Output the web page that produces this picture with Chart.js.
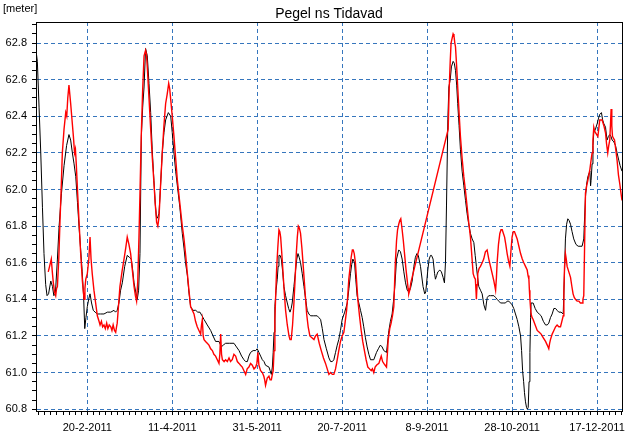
<!DOCTYPE html>
<html>
<head>
<meta charset="utf-8">
<script src="https://cdn.jsdelivr.net/npm/chart.js@4.4.1/dist/chart.umd.min.js"></script>
<style>
  html, body { margin: 0; padding: 0; background: #fff; }
</style>
</head>
<body>
<canvas id="chart" width="634" height="436"></canvas>
<script>
const chartTitle = 'Pegel ns Tidavad'
const unitLabel = '[meter]'

// x values are days counted from 1-1-2011
const xTickDays = [50, 100, 150, 200, 250, 300, 350]
const xTickLabels = ['20-2-2011', '11-4-2011', '31-5-2011', '20-7-2011', '8-9-2011', '28-10-2011', '17-12-2011']
const yTickLabels = ['60.8', '61.0', '61.2', '61.4', '61.6', '61.8', '62.0', '62.2', '62.4', '62.6', '62.8']

const blackDays = [
  19.8, 20.6, 21.6, 22.6, 23.6, 24.5, 25.5, 26.3, 27.2, 28.5,
  29.5, 30.3, 31.2, 32.4, 33.4, 34.8, 36.3, 37.8, 39.2, 40.2,
  41.2, 42.2, 43.2, 44.2, 45.1, 46.1, 47.0, 47.8, 48.5, 49.2,
  50.0, 50.8, 51.6, 52.5, 53.5, 54.6, 55.9, 57.8, 59.8, 61.8,
  63.8, 65.7, 66.6, 67.6, 68.6, 69.6, 70.6, 72.0, 73.5, 74.7,
  75.9, 76.7, 77.5, 78.5, 79.4, 80.2, 81.0, 81.8, 82.6, 83.4,
  84.3, 85.3, 86.3, 87.3, 88.2, 89.2, 90.0, 90.8, 91.5, 92.2,
  93.1, 94.1, 95.1, 96.1, 97.7, 99.1, 100.0, 101.0, 102.0, 103.0,
  104.5, 105.9, 106.9, 107.8, 108.9, 109.8, 110.8, 112.2, 113.8, 115.0,
  116.3, 117.5, 118.7, 120.6, 122.6, 124.0, 125.5, 127.5, 128.9, 130.0,
  131.4, 133.8, 136.3, 137.8, 139.3, 140.8, 142.2, 143.2, 144.2, 145.1,
  146.1, 147.6, 149.1, 150.0, 151.0, 152.0, 153.0, 154.0, 154.9, 156.9,
  157.6, 158.3, 158.9, 159.4, 159.9, 160.4, 161.1, 161.8, 162.3, 162.8,
  163.5, 164.2, 165.0, 165.7, 166.7, 167.7, 168.5, 169.3, 170.0, 170.6,
  171.6, 172.6, 173.3, 174.0, 174.7, 175.5, 176.5, 177.5, 178.5, 179.4,
  180.4, 181.4, 183.3, 185.3, 186.3, 187.3, 188.3, 189.3, 190.7, 192.2,
  193.2, 194.2, 195.1, 196.1, 197.1, 198.0, 199.0, 200.0, 201.5, 203.0,
  204.0, 204.9, 205.6, 206.3, 207.3, 208.0, 208.8, 209.8, 210.8, 211.8,
  212.7, 213.7, 214.7, 215.7, 216.7, 218.6, 220.2, 221.3, 222.5, 223.5,
  224.5, 226.1, 227.5, 228.4, 229.4, 230.2, 231.0, 232.0, 233.3, 234.3,
  235.3, 236.3, 237.3, 238.3, 239.2, 240.2, 241.2, 242.2, 243.1, 244.0,
  244.8, 246.1, 247.6, 248.6, 249.2, 250.4, 251.2, 252.0, 252.6, 253.5,
  254.4, 254.9, 255.6, 256.3, 257.5, 258.4, 259.4, 260.2, 260.8, 261.4,
  262.2, 262.8, 263.6, 264.3, 265.3, 266.0, 266.7, 267.4, 268.0, 268.8,
  269.6, 270.6, 271.6, 272.6, 273.5, 274.5, 275.5, 276.5, 277.5, 278.3,
  279.0, 279.7, 280.4, 281.4, 282.4, 283.4, 284.4, 284.9, 285.4, 286.3,
  287.3, 289.3, 290.3, 291.2, 292.2, 293.2, 295.2, 296.1, 297.1, 298.1,
  299.1, 300.0, 301.0, 302.0, 303.0, 304.0, 305.0, 305.6, 306.2, 306.8,
  307.3, 307.9, 308.5, 309.0, 309.5, 310.0, 310.5, 310.9, 311.2, 311.8,
  312.4, 313.6, 314.8, 316.0, 317.1, 318.4, 319.7, 320.7, 321.6, 322.6,
  323.6, 324.6, 325.6, 326.5, 327.5, 328.8, 330.1, 330.7, 331.4, 332.1,
  332.8, 333.6, 334.4, 335.3, 336.3, 337.6, 338.9, 340.0, 341.2, 342.2,
  342.7, 343.2, 343.9, 344.6, 345.8, 346.2, 346.5, 347.1, 347.6, 348.1,
  349.1, 350.1, 350.9, 351.6, 352.6, 353.3, 354.0, 355.0, 355.9, 356.7,
  357.5, 358.2, 358.9, 359.9, 360.9, 361.8, 362.8, 363.6, 364.7
]
const blackLevels = [
  62.76, 62.70, 62.45, 62.20, 61.90, 61.65, 61.48, 61.42, 61.43, 61.50,
  61.47, 61.42, 61.43, 61.62, 61.80, 61.98, 62.13, 62.24, 62.30, 62.27,
  62.20, 62.14, 62.07, 61.93, 61.80, 61.67, 61.55, 61.42, 61.24, 61.30,
  61.36, 61.40, 61.43, 61.38, 61.34, 61.33, 61.32, 61.32, 61.32, 61.33,
  61.33, 61.34, 61.33, 61.34, 61.38, 61.45, 61.49, 61.58, 61.64, 61.63,
  61.62, 61.56, 61.49, 61.44, 61.40, 61.45, 61.65, 62.29, 62.45, 62.56,
  62.77, 62.73, 62.58, 62.42, 62.22, 62.05, 61.92, 61.84, 61.85, 61.87,
  62.02, 62.20, 62.31, 62.38, 62.42, 62.40, 62.31, 62.20, 62.10, 62.02,
  61.90, 61.76, 61.68, 61.60, 61.53, 61.44, 61.36, 61.34, 61.34, 61.33,
  61.33, 61.31, 61.29, 61.26, 61.23, 61.20, 61.17, 61.17, 61.14, 61.15,
  61.16, 61.16, 61.16, 61.14, 61.12, 61.09, 61.07, 61.06, 61.06, 61.09,
  61.11, 61.12, 61.12, 61.13, 61.11, 61.09, 61.07, 61.06, 61.04, 61.03,
  61.01, 60.99, 61.03, 61.11, 61.22, 61.36, 61.45, 61.51, 61.58, 61.64,
  61.64, 61.62, 61.55, 61.47, 61.42, 61.38, 61.35, 61.33, 61.35, 61.38,
  61.47, 61.56, 61.62, 61.65, 61.63, 61.60, 61.54, 61.47, 61.40, 61.34,
  61.32, 61.31, 61.31, 61.31, 61.30, 61.29, 61.24, 61.18, 61.13, 61.08,
  61.06, 61.06, 61.07, 61.11, 61.15, 61.18, 61.23, 61.29, 61.33, 61.38,
  61.46, 61.54, 61.59, 61.62, 61.60, 61.51, 61.42, 61.38, 61.34, 61.30,
  61.25, 61.19, 61.14, 61.10, 61.07, 61.07, 61.11, 61.13, 61.15, 61.14,
  61.12, 61.11, 61.23, 61.28, 61.32, 61.39, 61.47, 61.62, 61.67, 61.66,
  61.62, 61.55, 61.49, 61.45, 61.44, 61.46, 61.50, 61.58, 61.63, 61.65,
  61.64, 61.58, 61.47, 61.43, 61.44, 61.56, 61.62, 61.64, 61.64, 61.62,
  61.54, 61.51, 61.53, 61.55, 61.56, 61.55, 61.52, 61.49, 61.60, 61.91,
  62.38, 62.56, 62.60, 62.67, 62.70, 62.69, 62.65, 62.57, 62.47, 62.35,
  62.22, 62.10, 62.02, 61.94, 61.87, 61.81, 61.76, 61.73, 61.71, 61.64,
  61.58, 61.52, 61.47, 61.45, 61.43, 61.37, 61.34, 61.38, 61.41, 61.42,
  61.42, 61.42, 61.41, 61.40, 61.39, 61.38, 61.38, 61.38, 61.39, 61.39,
  61.38, 61.37, 61.35, 61.32, 61.29, 61.25, 61.20, 61.12, 61.01, 60.95,
  60.89, 60.84, 60.81, 60.80, 60.81, 60.95, 61.11, 61.30, 61.38, 61.38,
  61.38, 61.35, 61.33, 61.32, 61.31, 61.28, 61.26, 61.26, 61.27, 61.30,
  61.32, 61.35, 61.35, 61.34, 61.33, 61.33, 61.32, 61.50, 61.73, 61.81,
  61.84, 61.83, 61.81, 61.77, 61.73, 61.70, 61.69, 61.69, 61.69, 61.73,
  61.85, 61.96, 62.03, 62.07, 62.10, 62.02, 62.05, 62.14, 62.24, 62.31,
  62.33, 62.36, 62.39, 62.41, 62.42, 62.38, 62.36, 62.34, 62.27, 62.29,
  62.30, 62.29, 62.27, 62.26, 62.24, 62.20, 62.16, 62.13, 62.10
]

const redDays = [
  27.0, 27.8, 28.8, 29.4, 30.0, 30.7, 31.4, 31.9, 32.4, 33.2,
  33.9, 34.6, 35.3, 36.3, 37.3, 37.9, 38.5, 39.2, 39.7, 40.2,
  41.0, 41.8, 42.5, 43.0, 43.5, 44.2, 45.1, 46.1, 47.1, 48.1,
  48.6, 49.1, 50.0, 50.9, 51.6, 52.2, 52.9, 53.9, 54.9, 55.9,
  56.9, 57.5, 58.3, 59.0, 59.8, 60.6, 61.4, 62.1, 62.9, 63.8,
  64.5, 65.2, 66.0, 66.7, 67.2, 67.6, 68.4, 69.2, 70.4, 71.6,
  72.6, 73.5, 74.5, 75.5, 76.5, 77.5, 78.3, 79.0, 79.7, 80.4,
  81.1, 81.8, 82.6, 83.4, 84.3, 84.8, 85.3, 86.3, 87.3, 88.2,
  89.2, 90.0, 90.8, 91.5, 92.2, 93.1, 94.1, 95.1, 96.1, 97.0,
  97.9, 98.5, 99.1, 100.0, 101.0, 102.0, 103.0, 104.5, 105.9, 106.9,
  107.9, 108.9, 109.8, 110.8, 111.8, 112.8, 113.7, 114.7, 115.7, 116.7,
  117.2, 117.7, 118.2, 118.7, 119.6, 120.6, 121.6, 122.6, 123.6, 124.5,
  125.5, 126.5, 127.5, 128.0, 128.5, 129.0, 129.5, 130.5, 131.4, 132.4,
  133.4, 134.3, 135.3, 136.3, 137.3, 138.3, 139.3, 140.2, 141.2, 142.2,
  143.2, 144.1, 145.1, 146.1, 147.1, 148.1, 149.1, 149.8, 150.4, 151.0,
  152.0, 153.0, 153.9, 154.4, 154.9, 155.9, 156.9, 157.6, 158.3, 158.9,
  159.4, 159.9, 160.4, 160.9, 161.4, 162.1, 162.8, 163.3, 163.8, 164.4,
  165.1, 165.9, 166.7, 167.7, 168.7, 169.3, 170.0, 170.8, 171.6, 172.3,
  173.0, 173.6, 174.2, 174.8, 175.5, 176.3, 177.1, 178.1, 179.1, 180.0,
  181.0, 182.2, 183.4, 184.3, 185.3, 186.5, 187.7, 189.0, 190.2, 191.2,
  192.2, 193.2, 194.2, 195.1, 196.1, 197.1, 198.0, 199.0, 200.0, 201.0,
  201.8, 202.6, 203.3, 203.9, 204.6, 205.3, 206.0, 206.5, 207.1, 207.8,
  208.5, 209.2, 210.2, 211.2, 212.1, 213.1, 214.1, 215.1, 216.1, 217.1,
  217.8, 218.6, 219.4, 220.2, 221.6, 222.3, 223.0, 223.8, 224.5, 225.3,
  226.1, 226.6, 227.1, 228.0, 228.8, 229.6, 230.4, 230.9, 231.4, 232.0,
  232.6, 233.3, 233.9, 234.5, 235.3, 236.0, 236.7, 237.5, 238.2, 238.8,
  239.2, 239.8, 240.4, 262.4, 263.0, 263.6, 264.1, 264.8, 265.3, 265.8,
  266.3, 266.7, 267.4, 268.0, 268.8, 269.6, 270.6, 271.6, 272.6, 273.5,
  274.5, 275.5, 276.3, 277.1, 277.8, 278.4, 278.8, 279.0, 279.4, 279.8,
  280.6, 281.4, 282.4, 283.3, 284.3, 285.3, 286.3, 287.3, 288.3, 289.3,
  290.3, 290.8, 291.2, 292.0, 292.8, 293.5, 294.2, 294.9, 295.6, 296.3,
  297.1, 297.9, 298.7, 299.3, 300.0, 300.7, 301.4, 302.2, 303.0, 304.0,
  305.0, 306.0, 306.9, 307.9, 308.9, 309.4, 309.9, 310.2, 310.5, 310.9,
  311.2, 311.8, 312.4, 313.6, 314.8, 316.0, 317.1, 318.4, 319.7, 320.7,
  321.6, 322.1, 322.6, 323.6, 324.6, 325.6, 326.5, 327.5, 328.5, 329.3,
  330.1, 330.5, 330.9, 331.4, 331.9, 332.4, 333.4, 334.4, 335.2, 335.9,
  336.6, 337.3, 338.3, 339.3, 340.2, 341.2, 341.7, 342.2, 342.7, 343.2,
  343.9, 344.6, 345.2, 345.8, 346.5, 347.1, 347.6, 348.1, 348.6, 349.1,
  349.8, 350.5, 351.0, 351.6, 352.3, 353.0, 354.0, 355.0, 355.6, 356.3,
  356.9, 357.5, 357.9, 358.3, 358.7, 359.1, 359.7, 360.3, 361.0, 361.8,
  362.6, 363.4, 364.1, 364.7
]
const redLevels = [
  61.55, 61.58, 61.62, 61.55, 61.49, 61.44, 61.42, 61.46, 61.47, 61.62,
  61.82, 62.00, 62.20, 62.33, 62.42, 62.40, 62.50, 62.57, 62.52, 62.47,
  62.38, 62.29, 62.20, 62.22, 62.14, 62.00, 61.83, 61.65, 61.50, 61.40,
  61.46, 61.51, 61.54, 61.62, 61.74, 61.62, 61.54, 61.45, 61.38, 61.31,
  61.28, 61.26, 61.28, 61.25, 61.26, 61.24, 61.27, 61.24, 61.26, 61.25,
  61.23, 61.26, 61.23, 61.22, 61.25, 61.27, 61.37, 61.47, 61.55, 61.62,
  61.68, 61.74, 61.70, 61.65, 61.56, 61.47, 61.42, 61.39, 61.50, 61.74,
  62.02, 62.31, 62.55, 62.73, 62.76, 62.74, 62.67, 62.50, 62.33, 62.18,
  62.04, 61.92, 61.82, 61.80, 61.85, 62.02, 62.20, 62.35, 62.47, 62.52,
  62.58, 62.55, 62.49, 62.40, 62.29, 62.17, 62.05, 61.92, 61.80, 61.73,
  61.64, 61.54, 61.45, 61.36, 61.34, 61.32, 61.28, 61.25, 61.23, 61.21,
  61.26, 61.29, 61.20, 61.18, 61.17, 61.16, 61.15, 61.13, 61.12, 61.10,
  61.09, 61.07, 61.05, 61.10, 61.21, 61.10, 61.07, 61.06, 61.07, 61.06,
  61.08, 61.06, 61.07, 61.10, 61.09, 61.06, 61.05, 61.04, 61.03, 61.01,
  60.99, 61.02, 61.03, 61.05, 61.04, 61.02, 61.03, 61.05, 61.11, 61.04,
  61.01, 61.00, 60.98, 60.96, 60.93, 60.97, 60.98, 60.96, 60.96, 60.99,
  61.01, 61.12, 61.29, 61.43, 61.56, 61.68, 61.78, 61.77, 61.74, 61.66,
  61.56, 61.44, 61.34, 61.26, 61.20, 61.18, 61.18, 61.26, 61.38, 61.51,
  61.65, 61.74, 61.80, 61.79, 61.76, 61.68, 61.58, 61.45, 61.32, 61.25,
  61.20, 61.19, 61.18, 61.20, 61.21, 61.16, 61.12, 61.08, 61.05, 61.02,
  60.99, 61.00, 60.99, 60.99, 61.02, 61.07, 61.12, 61.17, 61.20, 61.22,
  61.28, 61.34, 61.42, 61.51, 61.57, 61.63, 61.67, 61.67, 61.65, 61.60,
  61.50, 61.40, 61.31, 61.23, 61.17, 61.12, 61.07, 61.03, 61.02, 61.01,
  61.02, 61.00, 61.03, 61.04, 61.05, 61.07, 61.09, 61.06, 61.05, 61.04,
  61.03, 61.10, 61.18, 61.24, 61.27, 61.31, 61.36, 61.50, 61.62, 61.72,
  61.78, 61.81, 61.83, 61.84, 61.78, 61.72, 61.65, 61.57, 61.51, 61.46,
  61.43, 61.45, 61.49, 62.33, 62.55, 62.70, 62.80, 62.83, 62.85, 62.84,
  62.80, 62.78, 62.67, 62.56, 62.42, 62.29, 62.17, 62.07, 61.99, 61.91,
  61.82, 61.74, 61.64, 61.54, 61.52, 61.51, 61.44, 61.40, 61.48, 61.54,
  61.57, 61.58, 61.60, 61.62, 61.66, 61.67, 61.62, 61.58, 61.54, 61.50,
  61.45, 61.52, 61.60, 61.70, 61.76, 61.78, 61.78, 61.76, 61.74, 61.70,
  61.65, 61.61, 61.58, 61.66, 61.74, 61.77, 61.77, 61.75, 61.73, 61.69,
  61.65, 61.62, 61.60, 61.58, 61.56, 61.53, 61.51, 61.45, 61.40, 61.35,
  61.32, 61.30, 61.29, 61.26, 61.23, 61.22, 61.21, 61.19, 61.17, 61.15,
  61.13, 61.16, 61.18, 61.21, 61.23, 61.25, 61.26, 61.25, 61.25, 61.28,
  61.31, 61.45, 61.58, 61.65, 61.62, 61.58, 61.55, 61.52, 61.47, 61.43,
  61.41, 61.40, 61.39, 61.39, 61.38, 61.38, 61.40, 61.42, 61.70, 61.98,
  62.02, 62.05, 62.08, 62.11, 62.16, 62.20, 62.27, 62.34, 62.32, 62.31,
  62.30, 62.29, 62.33, 62.38, 62.38, 62.38, 62.35, 62.31, 62.25, 62.20,
  62.24, 62.27, 62.35, 62.44, 62.35, 62.29, 62.28, 62.27, 62.22, 62.16,
  62.08, 62.03, 61.98, 61.94
]

const gridBlue = '#3676bd'
const fontName = '"Liberation Sans", Arial, sans-serif'

// minor x ticks: 14 per 50 days, minor y ticks every 0.05 m
const xMinorPerMajor = 14

const frame = {
  id: 'frame',
  afterDraw(chart) {
    const { ctx, chartArea } = chart
    ctx.save()
    ctx.strokeStyle = '#000'
    ctx.lineWidth = 1
    ctx.strokeRect(Math.round(chartArea.left) + 0.5, Math.round(chartArea.top) + 0.5,
      Math.round(chartArea.right - chartArea.left), Math.round(chartArea.bottom - chartArea.top))
    ctx.fillStyle = '#000'
    ctx.font = '14px ' + fontName
    ctx.textAlign = 'center'
    ctx.textBaseline = 'alphabetic'
    ctx.fillText(chartTitle, (chartArea.left + chartArea.right) / 2, 18)
    ctx.font = '11px ' + fontName
    ctx.textAlign = 'left'
    ctx.fillText(unitLabel, 3, 12)
    ctx.restore()
  }
}

const ctx = document.getElementById('chart')
new Chart(ctx, {
  type: 'line',
  data: {
    datasets: [{
      label: 'red',
      data: redDays.map((d, i) => ({ x: d, y: redLevels[i] })),
      borderColor: '#ff0000',
      borderWidth: 1.4,
      pointRadius: 0,
      tension: 0
    }, {
      label: 'black',
      data: blackDays.map((d, i) => ({ x: d, y: blackLevels[i] })),
      borderColor: '#000000',
      borderWidth: 1,
      pointRadius: 0,
      tension: 0
    }]
  },
  options: {
    responsive: false,
    animation: false,
    devicePixelRatio: 1,
    layout: { padding: { top: 22, right: 12, left: 0, bottom: 0 } },
    plugins: {
      legend: { display: false },
      tooltip: { enabled: false },
      title: { display: false }
    },
    scales: {
      x: {
        type: 'linear',
        min: 19.8,
        max: 364.7,
        afterFit(scale) { scale.height = 25 },
        afterBuildTicks(scale) {
          const ticks = []
          for (let k = -8; 50 + k * 50 / xMinorPerMajor <= 364.7; k++) {
            ticks.push({ value: 50 + k * 50 / xMinorPerMajor, major: k % xMinorPerMajor === 0 })
          }
          scale.ticks = ticks
        },
        ticks: {
          autoSkip: false,
          maxRotation: 0,
          padding: 6,
          color: '#000',
          font: { family: fontName, size: 11 },
          callback(value) {
            const i = xTickDays.findIndex(d => Math.abs(d - value) < 1e-6)
            return i >= 0 ? xTickLabels[i] : ''
          }
        },
        grid: {
          color: c => (c.tick && xTickDays.some(d => Math.abs(d - c.tick.value) < 1e-6)) ? gridBlue : 'rgba(0,0,0,0)',
          tickColor: '#000',
          tickLength: 4,
          lineWidth: 1
        },
        border: { display: true, color: '#000', dash: [4, 3] }
      },
      y: {
        min: 60.79,
        max: 62.915,
        afterFit(scale) { scale.width = 36 },
        afterBuildTicks(scale) {
          const ticks = []
          for (let k = 0; k <= 42; k++) {
            ticks.push({ value: Math.round((60.8 + k * 0.05) * 100) / 100, major: k % 4 === 0 })
          }
          scale.ticks = ticks
        },
        ticks: {
          autoSkip: false,
          padding: 5,
          color: '#000',
          font: { family: fontName, size: 11 },
          callback(value, index) {
            return index % 4 === 0 ? yTickLabels[index / 4] : ''
          }
        },
        grid: {
          color: c => (c.tick && c.index % 4 === 0) ? gridBlue : 'rgba(0,0,0,0)',
          tickColor: '#000',
          tickLength: 4,
          lineWidth: 1
        },
        border: { display: true, color: '#000', dash: [4, 3] }
      }
    }
  },
  plugins: [frame]
})
</script>
</body>
</html>
